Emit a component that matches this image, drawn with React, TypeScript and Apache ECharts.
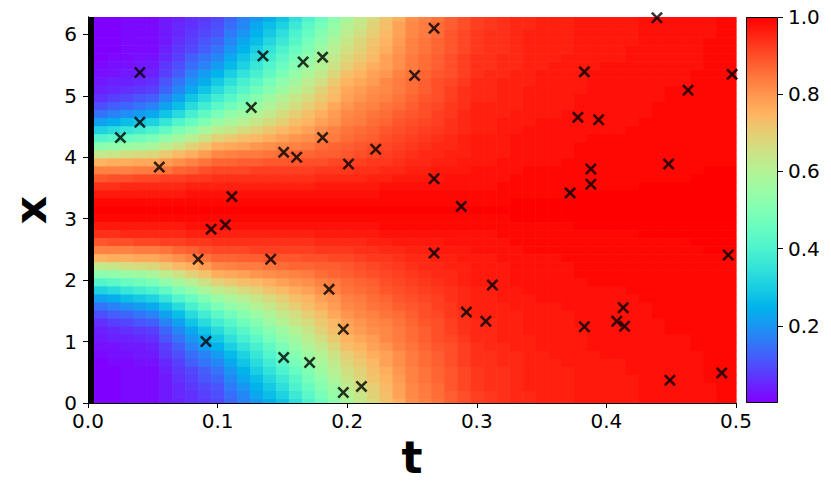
import React, { useEffect, useRef } from "react";
import * as echarts from "echarts";

// time grid of the colour field (t)
const T_GRID = [
  0, 0.01, 0.02, 0.03, 0.04, 0.05, 0.06, 0.07, 0.08, 0.09, 0.1, 0.11, 0.12, 0.13, 0.14, 0.15, 0.16, 0.17,
  0.18, 0.19, 0.2, 0.21, 0.22, 0.23, 0.24, 0.25, 0.26, 0.27, 0.28, 0.29, 0.3, 0.31, 0.32, 0.33, 0.34, 0.35,
  0.36, 0.37, 0.38, 0.39, 0.4, 0.41, 0.42, 0.43, 0.44, 0.45, 0.46, 0.47, 0.48, 0.49, 0.5,
];
// field centre (x = pi) and distances |x - pi| of the grid rows (field is symmetric about x = pi)
const X_CENTER = 3.1416;
const X_OFFSETS = [
  0, 0.1309, 0.2618, 0.3927, 0.5236, 0.6545, 0.7854, 0.9163, 1.0472, 1.1781, 1.309, 1.4399, 1.5708, 1.7017,
  1.8326, 1.9635, 2.0944, 2.2253, 2.3562, 2.4871, 2.618, 2.7489, 2.8798, 3.0107, 3.1416,
];
// u (in %) per time column, per row offset from the centre
const U_PERCENT = [
  [100, 99, 97, 94, 89, 83, 75, 62, 50, 39, 29, 20, 13, 8, 5, 3, 2, 1, 1, 0, 0, 0, 0, 0, 0],
  [100, 99, 97, 94, 89, 83, 75, 63, 52, 41, 31, 22, 15, 10, 6, 4, 3, 2, 1, 0, 0, 0, 0, 0, 0],
  [100, 99, 97, 94, 90, 83, 76, 64, 53, 43, 33, 24, 17, 12, 8, 5, 4, 2, 2, 1, 0, 0, 0, 0, 0],
  [100, 99, 97, 95, 90, 83, 76, 66, 55, 45, 36, 27, 19, 13, 9, 6, 4, 3, 2, 1, 1, 1, 1, 1, 1],
  [100, 99, 97, 95, 91, 84, 77, 67, 56, 47, 38, 29, 21, 15, 11, 7, 5, 3, 3, 2, 1, 1, 1, 1, 1],
  [100, 99, 97, 95, 91, 84, 77, 68, 58, 49, 40, 31, 23, 17, 12, 8, 6, 4, 3, 2, 1, 1, 1, 1, 1],
  [100, 99, 97, 95, 92, 85, 79, 71, 62, 53, 44, 36, 28, 22, 17, 13, 11, 8, 7, 5, 4, 3, 3, 3, 3],
  [100, 99, 97, 95, 92, 87, 81, 74, 65, 57, 49, 41, 33, 27, 22, 18, 15, 12, 10, 8, 7, 6, 5, 5, 4],
  [100, 99, 98, 96, 93, 88, 83, 76, 69, 61, 53, 45, 39, 33, 28, 23, 20, 17, 14, 12, 9, 8, 7, 6, 6],
  [100, 99, 98, 96, 93, 90, 85, 79, 72, 65, 58, 50, 44, 38, 33, 28, 24, 21, 17, 15, 12, 11, 9, 8, 7],
  [100, 99, 98, 96, 94, 91, 87, 82, 76, 69, 62, 55, 49, 43, 38, 33, 29, 25, 21, 18, 15, 13, 11, 10, 9],
  [100, 99, 98, 96, 94, 91, 87, 83, 77, 71, 64, 58, 53, 47, 42, 38, 34, 30, 26, 23, 20, 18, 16, 14, 13],
  [100, 99, 98, 96, 94, 91, 88, 84, 78, 73, 67, 61, 56, 51, 47, 42, 39, 35, 31, 28, 25, 23, 20, 18, 17],
  [100, 99, 98, 96, 94, 92, 88, 84, 80, 74, 69, 64, 60, 55, 51, 47, 43, 39, 36, 33, 30, 27, 25, 23, 20],
  [100, 99, 98, 96, 94, 92, 89, 85, 81, 76, 72, 67, 63, 59, 56, 51, 48, 44, 41, 38, 35, 32, 29, 27, 24],
  [100, 99, 98, 96, 94, 92, 89, 86, 82, 78, 74, 70, 67, 63, 60, 56, 53, 49, 46, 43, 40, 37, 34, 31, 28],
  [100, 99, 98, 96, 94, 92, 89, 87, 83, 80, 76, 73, 70, 66, 64, 60, 57, 54, 51, 48, 45, 42, 40, 37, 34],
  [100, 99, 98, 96, 94, 92, 90, 87, 84, 81, 78, 75, 73, 70, 67, 64, 62, 59, 56, 53, 50, 48, 45, 43, 40],
  [100, 99, 98, 97, 95, 93, 90, 88, 86, 83, 81, 78, 76, 73, 71, 69, 66, 63, 60, 58, 56, 53, 51, 48, 46],
  [100, 99, 98, 97, 95, 93, 91, 88, 87, 84, 83, 80, 79, 77, 74, 73, 71, 68, 65, 63, 61, 59, 56, 54, 52],
  [100, 99, 98, 97, 95, 93, 91, 89, 88, 86, 85, 83, 82, 80, 78, 77, 75, 73, 70, 68, 66, 64, 62, 60, 58],
  [100, 99, 98, 97, 95, 94, 92, 90, 89, 87, 86, 84, 83, 82, 80, 79, 77, 75, 73, 71, 69, 68, 66, 64, 63],
  [100, 99, 98, 97, 96, 94, 93, 91, 90, 88, 87, 86, 85, 83, 82, 81, 79, 78, 76, 74, 73, 72, 70, 69, 67],
  [100, 99, 99, 98, 96, 95, 93, 92, 91, 90, 89, 87, 86, 85, 83, 82, 82, 80, 78, 78, 76, 75, 74, 73, 72],
  [100, 99, 99, 98, 97, 95, 94, 93, 92, 91, 90, 89, 88, 86, 85, 84, 84, 83, 81, 81, 80, 79, 78, 78, 76],
  [100, 99, 99, 98, 97, 96, 95, 94, 93, 92, 91, 90, 89, 88, 87, 86, 86, 85, 84, 84, 83, 83, 82, 82, 81],
  [100, 99, 99, 98, 97, 96, 95, 95, 94, 93, 92, 91, 90, 90, 89, 88, 88, 87, 86, 86, 85, 85, 84, 84, 83],
  [100, 99, 99, 98, 97, 97, 96, 95, 95, 94, 93, 92, 92, 91, 90, 90, 90, 89, 88, 88, 87, 87, 86, 86, 85],
  [100, 99, 99, 98, 98, 97, 96, 96, 95, 95, 94, 94, 93, 93, 92, 92, 91, 90, 90, 90, 89, 89, 89, 88, 88],
  [100, 99, 99, 98, 98, 97, 97, 96, 96, 96, 95, 95, 95, 94, 94, 94, 93, 92, 92, 92, 91, 91, 91, 90, 90],
  [100, 99, 99, 98, 98, 98, 97, 97, 97, 97, 96, 96, 96, 96, 95, 95, 95, 94, 94, 94, 93, 93, 93, 92, 92],
  [100, 99, 99, 98, 98, 98, 97, 97, 97, 97, 96, 96, 96, 96, 95, 95, 95, 95, 94, 94, 94, 94, 94, 93, 93],
  [100, 99, 99, 99, 98, 98, 98, 97, 97, 97, 97, 97, 96, 96, 96, 96, 96, 95, 95, 95, 94, 94, 94, 94, 94],
  [100, 100, 99, 99, 99, 98, 98, 98, 98, 98, 97, 97, 97, 96, 96, 96, 96, 96, 95, 95, 95, 95, 95, 95, 95],
  [100, 100, 99, 99, 99, 99, 98, 98, 98, 98, 98, 97, 97, 97, 97, 97, 96, 96, 96, 96, 96, 96, 96, 95, 95],
  [100, 100, 99, 99, 99, 99, 98, 98, 98, 98, 98, 98, 97, 97, 97, 97, 97, 97, 96, 96, 96, 96, 96, 96, 96],
  [100, 100, 99, 99, 99, 99, 98, 98, 98, 98, 98, 98, 97, 97, 97, 97, 97, 97, 97, 96, 96, 96, 96, 96, 96],
  [100, 100, 99, 99, 99, 99, 99, 98, 98, 98, 98, 98, 98, 97, 97, 97, 97, 97, 97, 97, 96, 96, 96, 96, 96],
  [100, 100, 100, 99, 99, 99, 99, 99, 99, 98, 98, 98, 98, 98, 98, 97, 97, 97, 97, 97, 97, 97, 97, 97, 97],
  [100, 100, 100, 99, 99, 99, 99, 99, 99, 99, 98, 98, 98, 98, 98, 98, 98, 98, 97, 97, 97, 97, 97, 97, 97],
  [100, 100, 100, 99, 99, 99, 99, 99, 99, 99, 98, 98, 98, 98, 98, 98, 98, 98, 98, 97, 97, 97, 97, 97, 97],
  [100, 100, 100, 99, 99, 99, 99, 99, 99, 99, 98, 98, 98, 98, 98, 98, 98, 98, 98, 97, 97, 97, 97, 97, 97],
  [100, 100, 100, 99, 99, 99, 99, 99, 99, 99, 99, 98, 98, 98, 98, 98, 98, 98, 98, 98, 98, 97, 97, 97, 97],
  [100, 100, 100, 100, 99, 99, 99, 99, 99, 99, 99, 99, 98, 98, 98, 98, 98, 98, 98, 98, 98, 98, 98, 98, 98],
  [100, 100, 100, 100, 99, 99, 99, 99, 99, 99, 99, 99, 99, 99, 98, 98, 98, 98, 98, 98, 98, 98, 98, 98, 98],
  [100, 100, 100, 100, 99, 99, 99, 99, 99, 99, 99, 99, 99, 99, 99, 99, 98, 98, 98, 98, 98, 98, 98, 98, 98],
  [100, 100, 100, 100, 99, 99, 99, 99, 99, 99, 99, 99, 99, 99, 99, 99, 98, 98, 98, 98, 98, 98, 98, 98, 98],
  [100, 100, 100, 100, 100, 99, 99, 99, 99, 99, 99, 99, 99, 99, 99, 99, 99, 99, 98, 98, 98, 98, 98, 98, 98],
  [100, 100, 100, 100, 100, 100, 99, 99, 99, 99, 99, 99, 99, 99, 99, 99, 99, 99, 99, 99, 99, 99, 98, 98, 98],
  [100, 100, 100, 100, 100, 100, 99, 99, 99, 99, 99, 99, 99, 99, 99, 99, 99, 99, 99, 99, 99, 99, 99, 99, 99],
  [100, 100, 100, 100, 100, 100, 99, 99, 99, 99, 99, 99, 99, 99, 99, 99, 99, 99, 99, 99, 99, 99, 99, 99, 99],
];

// collocation points (t, x)
const PTS_T = [
  0.025, 0.04, 0.04, 0.055, 0.126, 0.135, 0.166, 0.181, 0.151, 0.161, 0.181, 0.201, 0.222, 0.111, 0.267,
  0.252, 0.267, 0.288, 0.372, 0.095, 0.106, 0.085, 0.141, 0.186, 0.091, 0.151, 0.171, 0.197, 0.197, 0.211,
  0.267, 0.312, 0.292, 0.307, 0.439, 0.383, 0.378, 0.394, 0.388, 0.388, 0.448, 0.463, 0.497, 0.494, 0.383,
  0.408, 0.413, 0.414, 0.449, 0.489,
];
const PTS_X = [
  4.32, 5.38, 4.57, 3.84, 4.81, 5.65, 5.55, 5.63, 4.08, 4.0, 4.32, 3.89, 4.13, 3.36, 6.1, 5.33, 3.65, 3.2,
  3.42, 2.83, 2.9, 2.34, 2.34, 1.85, 1.0, 0.74, 0.66, 1.2, 0.17, 0.27, 2.44, 1.92, 1.48, 1.33, 6.27, 5.39,
  4.65, 4.61, 3.81, 3.56, 3.89, 5.09, 5.35, 2.41, 1.24, 1.33, 1.55, 1.25, 0.37, 0.49,
];
// initial-condition points at t = 0 (span of x)
const IC_T = 0;
const IC_X = [0, 6.2832];

const X_TICKS = [0, 1, 2, 3, 4, 5, 6];
const CB_TICKS = [0.2, 0.4, 0.6, 0.8, 1.0];

const RAINBOW = [
  "#8000ff", "#6628fe", "#4d4ffc", "#3374f8", "#1996f3", "#00b4eb", "#1acee3", "#33e3d9", "#4df3ce",
  "#66fcc2", "#80ffb4", "#99fca5", "#b3f396", "#cce385", "#e6ce74", "#ffb462", "#ff964f", "#ff743b",
  "#ff4f28", "#ff2814", "#ff0000",
];

const FONT = "DejaVu Sans";
const T_MAX = 0.5;
const X_MAX = 6.2832;
const IC_BAR_PX = 6;

export default function App() {
  const ref = useRef<HTMLDivElement>(null);

  useEffect(() => {
    if (!ref.current) return;
    const chart = echarts.init(ref.current, null, { renderer: "svg" });

    const halfT = (T_GRID[1] - T_GRID[0]) / 2;
    const halfX = (X_OFFSETS[1] - X_OFFSETS[0]) / 2;

    const cells: number[][] = [];
    T_GRID.forEach((t, j) => {
      X_OFFSETS.forEach((d, k) => {
        const u = U_PERCENT[j][k] / 100;
        if (k === 0) cells.push([t, X_CENTER, u]);
        else {
          cells.push([t, X_CENTER + d, u]);
          cells.push([t, X_CENTER - d, u]);
        }
      });
    });

    const points = PTS_T.map((t, i) => [t, PTS_X[i]]);

    const stops = RAINBOW.map((c, i) => ({ offset: i / (RAINBOW.length - 1), color: c }));

    const tickLabel = { color: "#000", fontSize: 20, fontFamily: FONT };
    const lineStyle = { color: "#000", width: 1 };

    const option: any = {
      animation: false,
      backgroundColor: "#fff",
      grid: [
        { left: 81, top: 17, width: 655, height: 386 },
        { left: 746, top: 17, width: 32, height: 386 },
      ],
      xAxis: [
        {
          type: "value",
          gridIndex: 0,
          min: 0,
          max: T_MAX,
          interval: 0.1,
          z: 10,
          splitLine: { show: false },
          axisLine: { show: true, lineStyle },
          axisTick: { show: true, length: 5, lineStyle },
          axisLabel: { ...tickLabel, margin: 8, formatter: (v: number) => v.toFixed(1) },
          name: "t",
          nameLocation: "middle",
          nameGap: 30,
          nameTextStyle: { color: "#000", fontSize: 44, fontWeight: "bold", fontFamily: FONT },
        },
        {
          type: "category",
          gridIndex: 1,
          data: ["u"],
          axisLine: { show: false },
          axisTick: { show: false },
          axisLabel: { show: false },
          splitLine: { show: false },
        },
        {
          type: "value",
          gridIndex: 0,
          position: "top",
          min: 0,
          max: T_MAX,
          z: 10,
          splitLine: { show: false },
          axisLine: { show: true, lineStyle },
          axisTick: { show: false },
          axisLabel: { show: false },
        },
      ],
      yAxis: [
        {
          type: "value",
          gridIndex: 0,
          min: 0,
          max: X_MAX,
          z: 10,
          splitLine: { show: false },
          axisLine: { show: true, lineStyle },
          axisTick: { show: true, length: 5, lineStyle, customValues: X_TICKS },
          axisLabel: {
            ...tickLabel,
            margin: 11,
            customValues: X_TICKS,
            formatter: (v: number) => String(Math.round(v)),
          },
          name: "x",
          nameLocation: "middle",
          nameGap: 36,
          nameRotate: 90,
          nameTextStyle: { color: "#000", fontSize: 44, fontWeight: "bold", fontFamily: FONT },
        },
        {
          type: "value",
          gridIndex: 1,
          position: "right",
          min: 0,
          max: 1,
          splitLine: { show: false },
          axisLine: { show: false },
          axisTick: { show: true, length: 5, lineStyle, customValues: CB_TICKS },
          axisLabel: { ...tickLabel, margin: 10, customValues: CB_TICKS, formatter: (v: number) => v.toFixed(1) },
        },
        {
          type: "value",
          gridIndex: 0,
          position: "right",
          min: 0,
          max: X_MAX,
          z: 10,
          splitLine: { show: false },
          axisLine: { show: true, lineStyle },
          axisTick: { show: false },
          axisLabel: { show: false },
        },
      ],
      visualMap: {
        type: "continuous",
        show: false,
        min: 0,
        max: 1,
        dimension: 2,
        seriesIndex: 0,
        inRange: { color: RAINBOW },
      },
      series: [
        {
          type: "custom",
          xAxisIndex: 0,
          yAxisIndex: 0,
          data: cells,
          encode: { x: 0, y: 1 },
          z: 1,
          renderItem: (_params: any, api: any) => {
            const t = api.value(0);
            const x = api.value(1);
            const t0 = Math.max(0, t - halfT);
            const t1 = Math.min(T_MAX, t + halfT);
            const x0 = Math.max(0, x - halfX);
            const x1 = Math.min(X_MAX, x + halfX);
            const p0 = api.coord([t0, x1]);
            const p1 = api.coord([t1, x0]);
            return {
              type: "rect",
              shape: { x: p0[0], y: p0[1], width: p1[0] - p0[0] + 0.6, height: p1[1] - p0[1] + 0.6 },
              style: { fill: api.visual("color"), stroke: null },
            };
          },
        },
        {
          type: "custom",
          xAxisIndex: 0,
          yAxisIndex: 0,
          data: [[IC_T, IC_X[0], IC_X[1]]],
          encode: { x: 0, y: [1, 2] },
          z: 3,
          renderItem: (_params: any, api: any) => {
            const top = api.coord([api.value(0), api.value(2)]);
            const bottom = api.coord([api.value(0), api.value(1)]);
            return {
              type: "rect",
              shape: { x: top[0], y: top[1], width: IC_BAR_PX, height: bottom[1] - top[1] },
              style: { fill: "#000" },
            };
          },
        },
        {
          type: "scatter",
          xAxisIndex: 0,
          yAxisIndex: 0,
          data: points,
          z: 4,
          symbol: "path://M0,1.5L1.5,0L5,3.5L8.5,0L10,1.5L6.5,5L10,8.5L8.5,10L5,6.5L1.5,10L0,8.5L3.5,5Z",
          symbolSize: 12,
          itemStyle: { color: "#000" },
        },
        {
          type: "bar",
          xAxisIndex: 1,
          yAxisIndex: 1,
          data: [1],
          barWidth: "100%",
          itemStyle: {
            color: new echarts.graphic.LinearGradient(0, 1, 0, 0, stops),
            borderColor: "#000",
            borderWidth: 1,
          },
        },
      ],
    };

    chart.setOption(option);
    return () => chart.dispose();
  }, []);

  return <div ref={ref} style={{ position: "fixed", left: 0, top: 0, width: 831, height: 490 }} />;
}
